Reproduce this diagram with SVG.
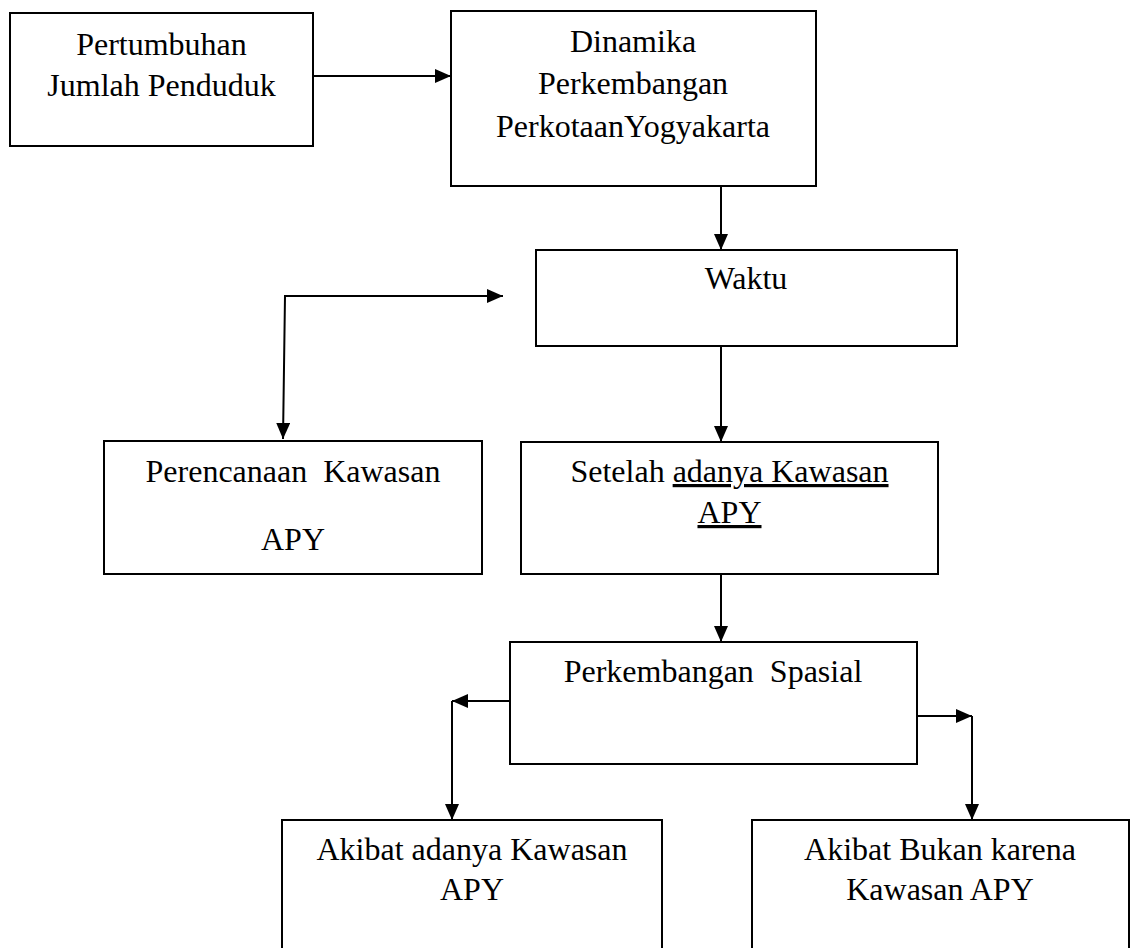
<svg xmlns="http://www.w3.org/2000/svg" width="1133" height="948" viewBox="0 0 1133 948">
<style>
.box{fill:#fff;stroke:#000;stroke-width:2}
.t{font-family:"Liberation Serif","Times New Roman",serif;font-size:32px;fill:#000;text-anchor:middle;white-space:pre}
.u{text-decoration:underline}
.c{fill:none;stroke:#000;stroke-width:2}
</style>
<defs>
<marker id="ah" viewBox="0 0 16 14" refX="16" refY="7" markerUnits="userSpaceOnUse" markerWidth="16" markerHeight="14" orient="auto-start-reverse">
<path d="M0,0 L16,7 L0,14 z" fill="#000"/>
</marker>
</defs>
<rect width="1133" height="948" fill="#fff"/>
<g id="connectors">
<path class="c" d="M313,76 H451" marker-end="url(#ah)"/>
<path class="c" d="M721,186 V250" marker-end="url(#ah)"/>
<path class="c" d="M503,296 H285 L283,439" marker-start="url(#ah)" marker-end="url(#ah)"/>
<path class="c" d="M721,346 V442" marker-end="url(#ah)"/>
<path class="c" d="M721,574 V642" marker-end="url(#ah)"/>
<path class="c" d="M510,701 H452" marker-end="url(#ah)"/>
<path class="c" d="M452,701 V820" marker-end="url(#ah)"/>
<path class="c" d="M917,716 H972" marker-end="url(#ah)"/>
<path class="c" d="M972,716 V820" marker-end="url(#ah)"/>
</g>
<g id="n1">
<rect class="box" x="10" y="13" width="303" height="133"/>
<text class="t" x="161.5" y="55">Pertumbuhan</text>
<text class="t" x="161.5" y="96">Jumlah Penduduk</text>
</g>
<g id="n2">
<rect class="box" x="451" y="11" width="365" height="175"/>
<text class="t" x="633" y="52">Dinamika</text>
<text class="t" x="633" y="94">Perkembangan</text>
<text class="t" x="633" y="137">PerkotaanYogyakarta</text>
</g>
<g id="n3">
<rect class="box" x="536" y="250" width="421" height="96"/>
<text class="t" x="746" y="289">Waktu</text>
</g>
<g id="n4">
<rect class="box" x="104" y="441" width="378" height="133"/>
<text class="t" x="293" y="482">Perencanaan  Kawasan</text>
<text class="t" x="293" y="550">APY</text>
</g>
<g id="n5">
<rect class="box" x="521" y="442" width="417" height="132"/>
<text class="t" x="729.5" y="482">Setelah <tspan class="u">adanya Kawasan</tspan></text>
<text class="t" x="729.5" y="523"><tspan class="u">APY</tspan></text>
</g>
<g id="n6">
<rect class="box" x="510" y="642" width="407" height="122"/>
<text class="t" x="713" y="682">Perkembangan  Spasial</text>
</g>
<g id="n7">
<rect class="box" x="282" y="820" width="380" height="140"/>
<text class="t" x="472" y="860">Akibat adanya Kawasan</text>
<text class="t" x="472" y="900">APY</text>
</g>
<g id="n8">
<rect class="box" x="752" y="820" width="377" height="140"/>
<text class="t" x="940" y="860">Akibat Bukan karena</text>
<text class="t" x="940" y="900">Kawasan APY</text>
</g>
</svg>
